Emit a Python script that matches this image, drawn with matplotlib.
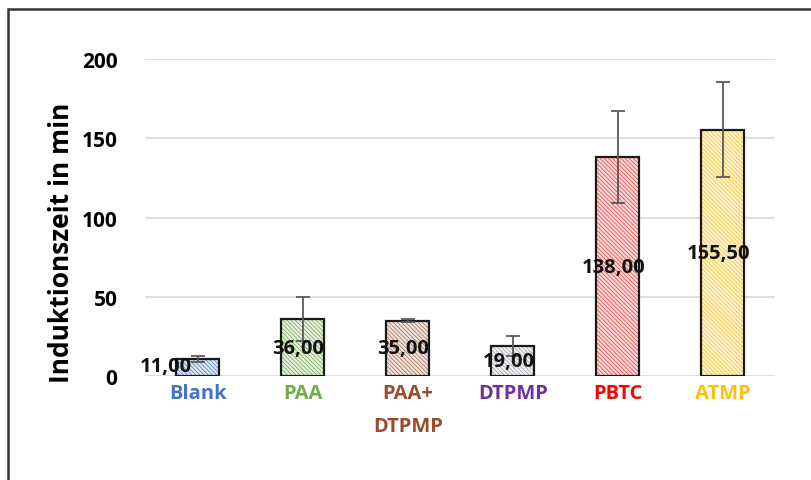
import matplotlib
matplotlib.use('Agg')
import matplotlib.pyplot as plt
from matplotlib.patches import Rectangle
import numpy as np

plt.rcParams['font.family'] = ['Open Sans', 'DejaVu Sans']

categories = ['Blank', 'PAA', 'PAA+\nDTPMP', 'DTPMP', 'PBTC', 'ATMP']
values = [11.0, 36.0, 35.0, 19.0, 138.0, 155.5]
errors = [2, 14, 1, 6, 29, 30]
labels = ['11,00', '36,00', '35,00', '19,00', '138,00', '155,50']
fill_colors = ['#dbe4f5', '#e2efda', '#eedfd7', '#f2f2f2', '#fbd3d3', '#fff2c8']
hatch_colors = ['#5b7fc7', '#79a85a', '#a0705a', '#9aa0b0', '#e04848', '#f0c040']
label_colors = ['#4472c4', '#70ad47', '#9c4a2c', '#7030a0', '#ff0000', '#ffc000']

fig = plt.figure(figsize=(8.11, 4.81), dpi=100)
ax = fig.add_axes([0.179, 0.216, 0.777, 0.659])

x = np.arange(len(categories))
w = 0.41
plt.rcParams['hatch.linewidth'] = 0.5
for i in range(len(categories)):
    ax.bar(x[i], values[i], w, color=fill_colors[i], edgecolor=hatch_colors[i],
           hatch='\\' * 8, linewidth=0, zorder=2)
ax.bar(x, values, w, facecolor='none', edgecolor='#1a1a1a', linewidth=1.6, zorder=3)
ax.errorbar(x, values, yerr=errors, fmt='none', ecolor='#595959', elinewidth=1.3,
            capsize=5, capthick=1.3, zorder=4)

for i in range(len(categories)):
    dx = -0.3 if i == 0 else -0.04
    ax.text(x[i] + dx, values[i] / 2 if i else values[i] * 0.6, labels[i],
            ha='center', va='center', fontsize=14.5, fontweight='bold',
            color='#111111', zorder=5)

ax.set_xlim(-0.5, 5.5)
ax.set_ylim(0, 200)
ax.set_yticks([0, 50, 100, 150, 200])
ax.set_xticks(x)
ax.set_xticklabels(categories, fontsize=14.5, fontweight='bold', linespacing=1.85, va='top')
for t, c in zip(ax.get_xticklabels(), label_colors):
    t.set_color(c)
ax.tick_params(axis='y', labelsize=15, length=0, pad=20)
ax.tick_params(axis='x', length=0, pad=5)
for t in ax.get_yticklabels():
    t.set_fontweight('bold')
fig.text(62 / 811, 1 - 243 / 481, 'Induktionszeit in min', rotation=90,
         ha='center', va='center', fontsize=19, fontweight='bold')
ax.yaxis.grid(True, color='#d9d9d9', linewidth=1.2, zorder=0)
ax.set_axisbelow(True)
for s in ax.spines.values():
    s.set_visible(False)

frame = Rectangle((8 / 811, -0.1), 1.2, 1 - 10 / 481 + 0.1, transform=fig.transFigure,
                  facecolor='none', edgecolor='#333333', linewidth=1.8, clip_on=False)
fig.patches.append(frame)

fig.savefig('out.png', dpi=100)
